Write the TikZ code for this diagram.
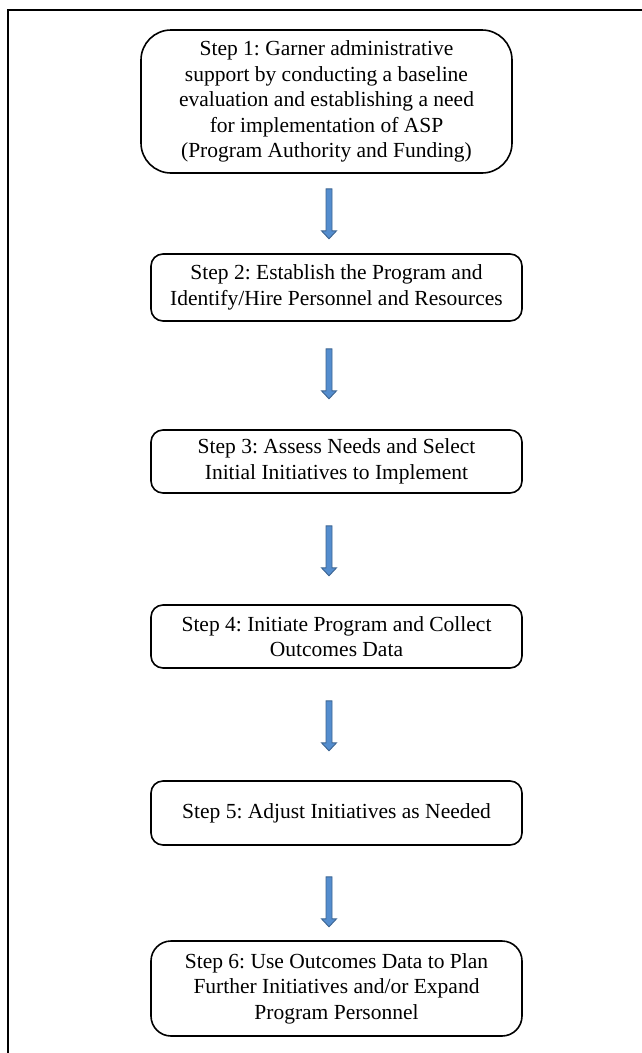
\documentclass[tikz,border=0pt]{standalone}
\usepackage{fontspec}
\setmainfont{Liberation Serif}
\usetikzlibrary{calc}
\definecolor{arrfill}{RGB}{84,141,206}
\definecolor{arrline}{RGB}{60,100,145}
\tikzset{
  stepbox/.style={draw=black, line width=1.6pt, align=center, inner sep=0pt,
    font=\fontsize{21.5}{25.5}\selectfont, minimum width=371pt},
  blockarr/.style={fill=arrfill, draw=arrline, line width=0.9pt, line join=miter}
}
\newcommand{\blkarrow}[3]{%
  \path[blockarr] let \p1=($(#1.south -| ax)+(0,#3)$), \p2=($(\p1)+(0,-50pt)$) in
    (\x1-3pt,\y1) -- (\x1+3pt,\y1) -- (\x1+3pt,\y2+8pt) -- (\x1+7.5pt,\y2+8pt)
    -- (\x1,\y2) -- (\x1-7.5pt,\y2+8pt) -- (\x1-3pt,\y2+8pt) -- cycle;}
\frenchspacing
\begin{document}
\begin{tikzpicture}[x=1pt,y=-1pt]
\useasboundingbox (0,0) rectangle (642,1053);
\draw[line width=1.3pt] (642,10) -- (8,10) -- (8,1053);
\coordinate (ax) at (329,0);
\node[stepbox, rounded corners=30pt, minimum height=143pt] (b1) at (326.5,101.5)
  {Step 1: Garner administrative\\support by conducting a baseline\\evaluation and establishing a need\\for implementation of ASP\\(Program Authority and Funding)};
\node[stepbox, rounded corners=12pt, minimum height=67pt] (b2) at (336.5,287.5)
  {Step 2: Establish the Program and\\Identify/Hire Personnel and Resources};
\node[stepbox, rounded corners=12pt, minimum height=63pt] (b3) at (336.5,461.5)
  {Step 3: Assess Needs and Select\\Initial Initiatives to Implement};
\node[stepbox, rounded corners=12pt, minimum height=63pt] (b4) at (336.5,636.5)
  {Step 4: Initiate Program and Collect\\Outcomes Data};
\node[stepbox, rounded corners=12pt, minimum height=64pt] (b5) at (336.5,813)
  {Step 5: Adjust Initiatives as Needed};
\node[stepbox, rounded corners=20pt, minimum height=95pt] (b6) at (336.5,988.5)
  {Step 6: Use Outcomes Data to Plan\\Further Initiatives and/or Expand\\Program Personnel};
\blkarrow{b1}{b2}{15}
\blkarrow{b2}{b3}{27}
\blkarrow{b3}{b4}{32}
\blkarrow{b4}{b5}{32}
\blkarrow{b5}{b6}{31}
\end{tikzpicture}
\end{document}
